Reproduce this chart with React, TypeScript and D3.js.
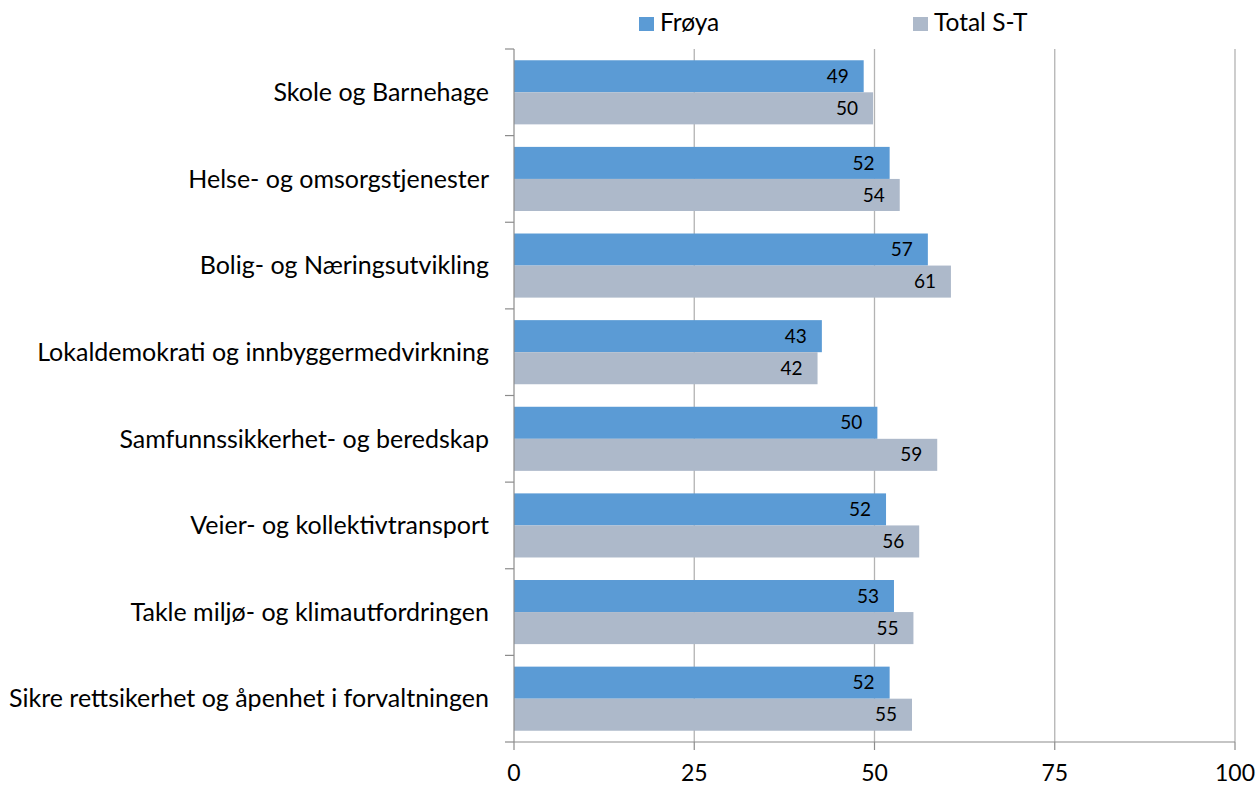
import React from 'react'
import * as d3 from 'd3'

const categories = [
    'Skole og Barnehage',
    'Helse- og omsorgstjenester',
    'Bolig- og Næringsutvikling',
    'Lokaldemokrati og innbyggermedvirkning',
    'Samfunnssikkerhet- og beredskap',
    'Veier- og kollektivtransport',
    'Takle miljø- og klimautfordringen',
    'Sikre rettsikerhet og åpenhet i forvaltningen',
]
const seriesNames = ['Frøya', 'Total S-T']
const froya = [48.5, 52.1, 57.4, 42.7, 50.4, 51.6, 52.7, 52.1]
const totalST = [49.8, 53.5, 60.6, 42.1, 58.7, 56.2, 55.4, 55.2]
const xTicks = [0, 25, 50, 75, 100]

const colors = ['#5B9BD5', '#ADB9CA']
const font = "Lato, 'Open Sans', sans-serif"

export default function App() {
    const width = 1259
    const height = 787
    const left = 514
    const right = 1235
    const top = 49
    const bottom = 742

    const x = d3.scaleLinear().domain([0, 100]).range([left, right])
    const y = d3.scaleBand<string>().domain(categories).range([top, bottom]).paddingInner(0.26).paddingOuter(0.13)
    const inner = d3.scaleBand<string>().domain(seriesNames).range([0, y.bandwidth()])
    const band = (bottom - top) / categories.length
    const series = [froya, totalST]

    return (
        <svg width={width} height={height} style={{ position: 'absolute', left: 0, top: 0, background: '#fff' }}>
            {/* gridlines */}
            {xTicks.filter(t => t > 0).map(t => (
                <line key={`g-${t}`} x1={x(t)} x2={x(t)} y1={top} y2={bottom} stroke="#B3B3B3" strokeWidth={1.3} />
            ))}
            {/* bars */}
            {categories.map((c, i) => (
                <g key={c}>
                    {series.map((s, j) => {
                        const by = (y(c) as number) + (inner(seriesNames[j]) as number)
                        return (
                            <g key={j}>
                                <rect x={x(0)} y={by} width={x(s[i]) - x(0)} height={inner.bandwidth()} fill={colors[j]} />
                                <text x={x(s[i]) - 15} y={by + inner.bandwidth() / 2} dy="0.35em" textAnchor="end"
                                      fontFamily={font} fontSize={19} fill="#000">{Math.round(s[i])}</text>
                            </g>
                        )
                    })}
                    <text x={489} y={(y(c) as number) + y.bandwidth() / 2} dy="0.35em" textAnchor="end"
                          fontFamily={font} fontSize={25} fill="#000">{c}</text>
                </g>
            ))}
            {/* y axis */}
            <line x1={left} x2={left} y1={top} y2={bottom} stroke="#8C8C8C" strokeWidth={1.2} />
            {d3.range(categories.length + 1).map(k => (
                <line key={`yt-${k}`} x1={left - 9} x2={left} y1={top + k * band} y2={top + k * band} stroke="#8C8C8C" strokeWidth={1.2} />
            ))}
            {/* x axis */}
            <line x1={left} x2={right} y1={bottom} y2={bottom} stroke="#8C8C8C" strokeWidth={1.2} />
            {xTicks.map(t => (
                <g key={`xt-${t}`}>
                    <line x1={x(t)} x2={x(t)} y1={bottom} y2={bottom + 8} stroke="#8C8C8C" strokeWidth={1.2} />
                    <text x={x(t)} y={781} textAnchor="middle" fontFamily={font} fontSize={23} fill="#000">{t}</text>
                </g>
            ))}
            {/* legend */}
            {seriesNames.map((n, j) => {
                const lx = j === 0 ? 639 : 913
                return (
                    <g key={n}>
                        <rect x={lx} y={17} width={15} height={14} fill={colors[j]} />
                        <text x={lx + 21} y={31} fontFamily={font} fontSize={24.5} fill="#000">{n}</text>
                    </g>
                )
            })}
        </svg>
    )
}
